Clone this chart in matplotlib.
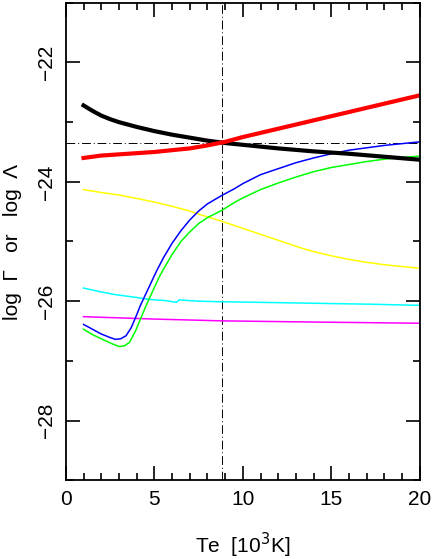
import numpy as np
import matplotlib.pyplot as plt
from matplotlib.ticker import MultipleLocator

plt.rcParams['font.family'] = ['Liberation Sans', 'DejaVu Sans']

# Te (10^3 K) and log rates
te_bk = [1, 1.5, 2, 2.5, 3, 3.5, 4, 5, 6, 7, 8, 9, 10, 12, 14, 16, 18, 20]
black = [-22.72, -22.81, -22.89, -22.95, -23.0, -23.04, -23.08, -23.15, -23.21,
         -23.26, -23.31, -23.35, -23.38, -23.44, -23.49, -23.53, -23.58, -23.63]

te_rd = [1, 1.5, 2, 3, 4, 5, 6, 7, 8, 9, 10, 11, 12, 14, 16, 18, 20]
red = [-23.6, -23.58, -23.56, -23.54, -23.52, -23.5, -23.47, -23.44, -23.39,
       -23.33, -23.25, -23.18, -23.11, -22.97, -22.83, -22.69, -22.55]

te_bl = [1, 1.5, 2, 2.5, 2.8, 3.1, 3.4, 3.7, 4.0, 4.2, 4.5, 4.8, 5.1, 5.5, 6,
         6.5, 7, 7.5, 8, 8.8, 9.5, 10, 11, 12, 13, 14, 15, 16, 17, 18, 19, 20]
blue = [-26.39, -26.47, -26.55, -26.61, -26.64, -26.63, -26.58, -26.44, -26.23,
        -26.08, -25.89, -25.7, -25.51, -25.28, -25.03, -24.82, -24.64, -24.49,
        -24.37, -24.23, -24.12, -24.03, -23.88, -23.78, -23.68, -23.6, -23.53,
        -23.47, -23.43, -23.39, -23.36, -23.33]

te_gr = [1, 1.5, 2, 2.5, 3.0, 3.3, 3.6, 3.95, 4.3, 4.6, 5.0, 5.3, 5.7, 6.0, 6.5,
         7, 7.5, 8, 8.8, 9.5, 10, 11, 12, 13, 14, 15, 16, 17, 18, 19, 20]
green = [-26.47, -26.56, -26.63, -26.7, -26.76, -26.75, -26.69, -26.49, -26.24,
         -26.03, -25.77, -25.58, -25.37, -25.22, -25.0, -24.84, -24.7, -24.6,
         -24.48, -24.35, -24.27, -24.13, -24.02, -23.92, -23.83, -23.76, -23.71,
         -23.66, -23.62, -23.59, -23.57]

te_yl = [1, 2, 3, 4.2, 5, 6, 7, 7.6, 8.8, 10, 11, 12, 13.2, 14, 15, 16, 17, 18,
         19, 20]
yellow = [-24.13, -24.18, -24.22, -24.29, -24.34, -24.41, -24.49, -24.55, -24.66,
          -24.78, -24.88, -24.98, -25.1, -25.17, -25.24, -25.3, -25.35, -25.39,
          -25.42, -25.45]

te_cy = [1, 1.9, 2.8, 3.8, 4.7, 5.6, 6.25, 6.4, 7.5, 8.8, 11, 13, 15, 17, 20]
cyan = [-25.78, -25.84, -25.89, -25.93, -25.97, -25.99, -26.02, -25.98, -26.0,
        -26.01, -26.02, -26.03, -26.04, -26.05, -26.07]

te_mg = [1, 5, 8.8, 14, 20]
magenta = [-26.26, -26.3, -26.33, -26.35, -26.37]

# equilibrium point (heating = cooling)
te_eq = 8.8
log_eq = -23.345

fig = plt.figure(figsize=(4.36, 5.59), dpi=100)
ax = fig.add_axes([0.151, 0.141, 0.812, 0.854])

dd = (0, (9, 3, 1, 3))
ax.axvline(te_eq, color='black', lw=0.7, ls=dd)
ax.axhline(log_eq, color='black', lw=0.7, ls=dd)

ax.plot(te_mg, magenta, color='#ff00ff', lw=1.1)
ax.plot(te_cy, cyan, color='#00ffff', lw=1.1)
ax.plot(te_yl, yellow, color='#ffff00', lw=1.1)
ax.plot(te_gr, green, color='#00ff00', lw=1.1)
ax.plot(te_bl, blue, color='#0000ff', lw=1.1)
ax.plot(te_bk, black, color='black', lw=3)
ax.plot(te_rd, red, color='red', lw=3)

ax.set_xlim(0, 20)
ax.set_ylim(-29, -21)
ax.xaxis.set_major_locator(MultipleLocator(5))
ax.xaxis.set_minor_locator(MultipleLocator(1))
ax.yaxis.set_major_locator(MultipleLocator(2))
ax.yaxis.set_minor_locator(MultipleLocator(1))
ax.tick_params(which='both', direction='in', top=True, right=True,
               labelsize=15, width=1.2)
ax.tick_params(which='major', length=10, pad=7)
ax.tick_params(which='minor', length=5)
for lbl in ax.get_yticklabels():
    lbl.set_rotation(90)
    lbl.set_va('center')
for s in ax.spines.values():
    s.set_linewidth(1.3)

ax.set_xlabel('Te  [10$^3$K]', fontsize=15, va='center')
ax.set_ylabel('log  \u0393   or   log  \u039b', fontsize=15, va='center')
ax.xaxis.set_label_coords(0.5, -0.136)
ax.yaxis.set_label_coords(-0.152, 0.5)

fig.savefig('out.png', dpi=100)
